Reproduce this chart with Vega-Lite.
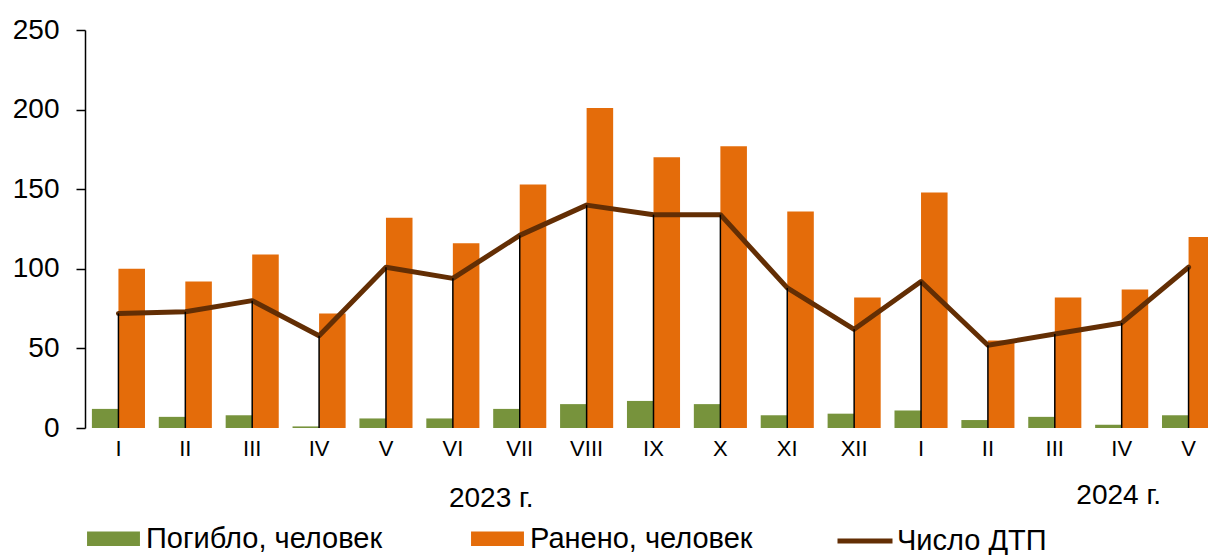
{
  "$schema": "https://vega.github.io/schema/vega-lite/v6.json",
  "width": 1123,
  "height": 398,
  "autosize": {"type": "none"},
  "padding": {"left": 85, "top": 30, "right": 0, "bottom": 127},
  "background": "white",
  "config": {"font": "Liberation Sans", "view": {"stroke": null}},
  "datasets": {
    "bars": [
      {"month": "I_2023", "series": "Погибло, человек", "value": 12},
      {"month": "I_2023", "series": "Ранено, человек", "value": 100},
      {"month": "II_2023", "series": "Погибло, человек", "value": 7},
      {"month": "II_2023", "series": "Ранено, человек", "value": 92},
      {"month": "III_2023", "series": "Погибло, человек", "value": 8},
      {"month": "III_2023", "series": "Ранено, человек", "value": 109},
      {"month": "IV_2023", "series": "Погибло, человек", "value": 1},
      {"month": "IV_2023", "series": "Ранено, человек", "value": 72},
      {"month": "V_2023", "series": "Погибло, человек", "value": 6},
      {"month": "V_2023", "series": "Ранено, человек", "value": 132},
      {"month": "VI_2023", "series": "Погибло, человек", "value": 6},
      {"month": "VI_2023", "series": "Ранено, человек", "value": 116},
      {"month": "VII_2023", "series": "Погибло, человек", "value": 12},
      {"month": "VII_2023", "series": "Ранено, человек", "value": 153},
      {"month": "VIII_2023", "series": "Погибло, человек", "value": 15},
      {"month": "VIII_2023", "series": "Ранено, человек", "value": 201},
      {"month": "IX_2023", "series": "Погибло, человек", "value": 17},
      {"month": "IX_2023", "series": "Ранено, человек", "value": 170},
      {"month": "X_2023", "series": "Погибло, человек", "value": 15},
      {"month": "X_2023", "series": "Ранено, человек", "value": 177},
      {"month": "XI_2023", "series": "Погибло, человек", "value": 8},
      {"month": "XI_2023", "series": "Ранено, человек", "value": 136},
      {"month": "XII_2023", "series": "Погибло, человек", "value": 9},
      {"month": "XII_2023", "series": "Ранено, человек", "value": 82},
      {"month": "I_2024", "series": "Погибло, человек", "value": 11},
      {"month": "I_2024", "series": "Ранено, человек", "value": 148},
      {"month": "II_2024", "series": "Погибло, человек", "value": 5},
      {"month": "II_2024", "series": "Ранено, человек", "value": 55},
      {"month": "III_2024", "series": "Погибло, человек", "value": 7},
      {"month": "III_2024", "series": "Ранено, человек", "value": 82},
      {"month": "IV_2024", "series": "Погибло, человек", "value": 2},
      {"month": "IV_2024", "series": "Ранено, человек", "value": 87},
      {"month": "V_2024", "series": "Погибло, человек", "value": 8},
      {"month": "V_2024", "series": "Ранено, человек", "value": 120}
    ],
    "dtp": [
      {"month": "I_2023", "value": 72},
      {"month": "II_2023", "value": 73},
      {"month": "III_2023", "value": 80},
      {"month": "IV_2023", "value": 58},
      {"month": "V_2023", "value": 101},
      {"month": "VI_2023", "value": 94},
      {"month": "VII_2023", "value": 121},
      {"month": "VIII_2023", "value": 140},
      {"month": "IX_2023", "value": 134},
      {"month": "X_2023", "value": 134},
      {"month": "XI_2023", "value": 88},
      {"month": "XII_2023", "value": 62},
      {"month": "I_2024", "value": 92},
      {"month": "II_2024", "value": 52},
      {"month": "III_2024", "value": 59},
      {"month": "IV_2024", "value": 66},
      {"month": "V_2024", "value": 101}
    ],
    "y2023": [{"label": "2023 г.", "month": "VI_2023", "base": 0}],
    "y2024": [{"label": "2024 г.", "month": "IV_2024", "base": 0}]
  },
  "layer": [
    {
      "data": {"name": "bars"},
      "mark": {"type": "bar"},
      "encoding": {
        "x": {
          "field": "month",
          "type": "nominal",
          "title": null,
          "scale": {
            "domain": ["I_2023", "II_2023", "III_2023", "IV_2023", "V_2023", "VI_2023", "VII_2023", "VIII_2023", "IX_2023", "X_2023", "XI_2023", "XII_2023", "I_2024", "II_2024", "III_2024", "IV_2024", "V_2024"],
            "range": [0, 1137],
            "paddingInner": 0,
            "paddingOuter": 0
          },
          "axis": {
            "domain": false,
            "ticks": false,
            "tickSize": 0,
            "labelFontSize": 22,
            "labelColor": "black",
            "labelPadding": 10,
            "labelAngle": 0,
            "labelExpr": "split(datum.value, '_')[0]",
            "grid": false
          }
        },
        "y": {
          "field": "value",
          "type": "quantitative",
          "title": null,
          "scale": {"domain": [0, 250], "nice": false},
          "axis": {
            "values": [0, 50, 100, 150, 200, 250],
            "tickSize": 9,
            "tickColor": "black",
            "tickWidth": 1.5,
            "domainColor": "black",
            "domainWidth": 1.5,
            "labelFontSize": 28,
            "labelColor": "black",
            "labelPadding": 17,
            "grid": false
          }
        },
        "xOffset": {
          "field": "series",
          "type": "nominal",
          "sort": ["Погибло, человек", "Ранено, человек"],
          "scale": {"paddingInner": 0, "paddingOuter": 0.26}
        },
        "color": {
          "field": "series",
          "type": "nominal",
          "scale": {
            "domain": ["Погибло, человек", "Ранено, человек"],
            "range": ["#77933C", "#E46C0A"]
          },
          "legend": {
            "orient": "none",
            "legendX": 2,
            "legendY": 482,
            "direction": "horizontal",
            "title": null,
            "symbolType": "M-1,-0.27H1V0.27H-1Z",
            "symbolSize": 2800,
            "symbolStrokeWidth": 0,
            "symbolOpacity": 1,
            "labelFontSize": 29,
            "labelColor": "black",
            "labelOffset": 6,
            "columnPadding": 88,
            "labelLimit": 400
          }
        }
      }
    },
    {
      "data": {"name": "dtp"},
      "mark": {"type": "line", "strokeWidth": 5, "strokeCap": "round", "strokeJoin": "round"},
      "encoding": {
        "x": {"field": "month", "type": "nominal"},
        "y": {"field": "value", "type": "quantitative"},
        "stroke": {
          "datum": "Число ДТП",
          "scale": {"range": ["#632E04"]},
          "legend": {
            "orient": "none",
            "legendX": 750,
            "legendY": 481,
            "title": null,
            "symbolType": "stroke",
            "symbolSize": 3025,
            "symbolStrokeWidth": 5,
            "labelFontSize": 29,
            "labelColor": "black",
            "labelOffset": 2,
            "labelLimit": 400
          }
        }
      }
    },
    {
      "data": {"name": "dtp"},
      "mark": {"type": "rule", "color": "black", "strokeWidth": 1.5},
      "encoding": {
        "x": {"field": "month", "type": "nominal"},
        "y": {"field": "value", "type": "quantitative"},
        "y2": {"datum": 0}
      }
    },
    {
      "data": {"name": "y2023"},
      "mark": {"type": "text", "fontSize": 28, "baseline": "alphabetic", "align": "center", "dx": 5, "dy": 79, "fill": "black"},
      "encoding": {
        "x": {"field": "month", "type": "nominal", "bandPosition": 1},
        "y": {"field": "base", "type": "quantitative"},
        "text": {"field": "label"}
      }
    },
    {
      "data": {"name": "y2024"},
      "mark": {"type": "text", "fontSize": 28, "baseline": "alphabetic", "align": "center", "dx": -3, "dy": 76, "fill": "black"},
      "encoding": {
        "x": {"field": "month", "type": "nominal", "bandPosition": 0.5},
        "y": {"field": "base", "type": "quantitative"},
        "text": {"field": "label"}
      }
    }
  ]
}
